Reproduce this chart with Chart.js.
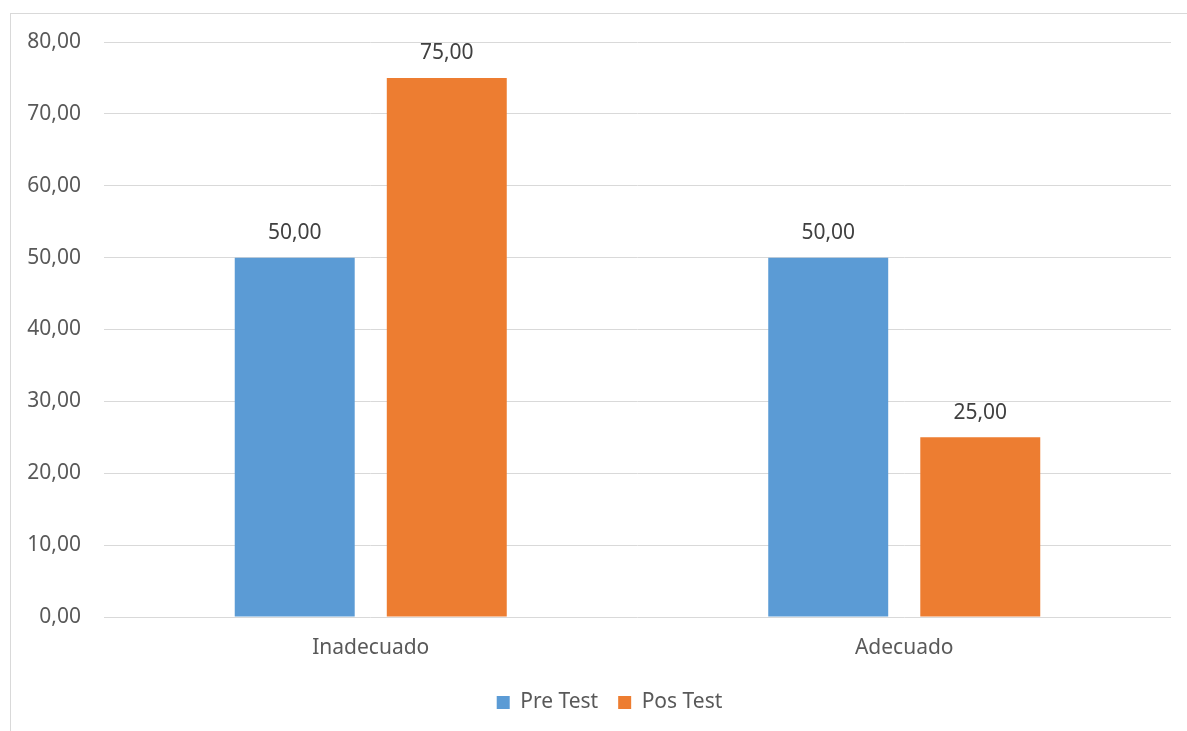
<!DOCTYPE html>
<html>
<head>
<meta charset="utf-8">
<script src="https://cdn.jsdelivr.net/npm/chart.js@4"></script>
<style>
    html, body { margin: 0; padding: 0; background: #fff; overflow: hidden; }
    #frame {
        position: absolute; left: 10px; top: 13px;
        width: 1400px; height: 1000px;
        border: 1px solid #d9d9d9;
    }
    #chart { position: absolute; left: 0; top: 0; }
</style>
</head>
<body>
<div id="frame"></div>
<canvas id="chart" width="1187" height="731"></canvas>
<script>
const categories = ['Inadecuado', 'Adecuado'];
const preTest = [50, 50];
const posTest = [75, 25];
const yTicks = [0, 10, 20, 30, 40, 50, 60, 70, 80];

const fmt = v => v.toFixed(2).replace('.', ',');
const FONT = '"Noto Sans", "Open Sans", sans-serif';

// Data labels above each bar
const barLabels = {
    id: 'barLabels',
    afterDatasetsDraw(chart) {
        const ctx = chart.ctx;
        ctx.save();
        ctx.font = '21px ' + FONT;
        ctx.fillStyle = '#404040';
        ctx.textAlign = 'center';
        ctx.textBaseline = 'bottom';
        chart.data.datasets.forEach((ds, i) => {
            chart.getDatasetMeta(i).data.forEach((bar, j) => {
                ctx.fillText(fmt(ds.data[j]), bar.x, bar.y - 14);
            });
        });
        ctx.restore();
    }
};

// The legend sits a bit right of centre in the original
const legendShift = {
    id: 'legendShift',
    afterLayout(chart) {
        chart.legend.left += 24;
        chart.legend.right += 24;
    }
};

new Chart(document.getElementById('chart'), {
    type: 'bar',
    data: {
        labels: categories,
        datasets: [
            { label: 'Pre Test', data: preTest, backgroundColor: '#5b9bd5' },
            { label: 'Pos Test', data: posTest, backgroundColor: '#ed7d31' }
        ]
    },
    options: {
        responsive: false,
        animation: false,
        datasets: {
            bar: { categoryPercentage: 0.570, barPercentage: 0.789 }
        },
        layout: { padding: { left: 0, right: 16, top: 42, bottom: 8 } },
        scales: {
            y: {
                min: 0,
                max: 80,
                afterBuildTicks: scale => { scale.ticks = yTicks.map(v => ({ value: v })); },
                afterFit: scale => { scale.width = 104; },
                border: { display: false },
                grid: { color: '#d9d9d9', drawTicks: false },
                ticks: {
                    color: '#595959',
                    padding: 23,
                    font: { family: FONT, size: 21 },
                    callback: v => fmt(v)
                }
            },
            x: {
                afterFit: scale => { scale.height = 55; },
                border: { display: false },
                grid: { display: false, drawTicks: false },
                ticks: {
                    color: '#595959',
                    padding: 18,
                    font: { family: FONT, size: 21 }
                }
            }
        },
        plugins: {
            legend: {
                position: 'bottom',
                labels: {
                    color: '#595959',
                    boxWidth: 13,
                    boxHeight: 13,
                    padding: 20,
                    font: { family: FONT, size: 21 }
                }
            },
            tooltip: { enabled: false }
        }
    },
    plugins: [barLabels, legendShift]
});
</script>
</body>
</html>
